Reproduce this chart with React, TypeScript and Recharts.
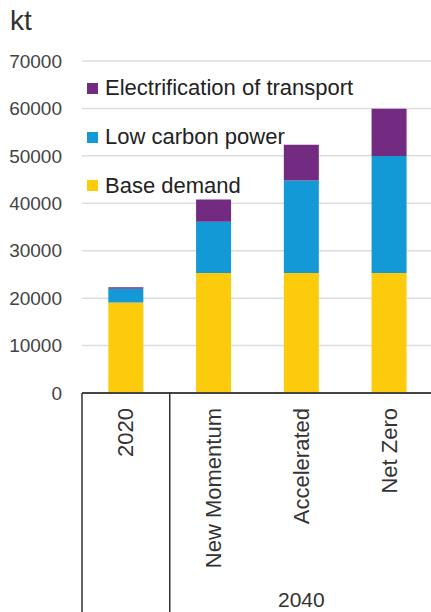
import React from "react";
import { BarChart, Bar, XAxis, YAxis, CartesianGrid, Legend } from "recharts";

const categories = ["2020", "New Momentum", "Accelerated", "Net Zero"];
const baseDemand = [19100, 25300, 25300, 25300];
const lowCarbonPower = [2900, 10800, 19500, 24650];
const electrification = [280, 4700, 7550, 10000];
const yTicks = [0, 10000, 20000, 30000, 40000, 50000, 60000, 70000];
const groupLabel = "2040";
const legendOrder = ["Electrification of transport", "Low carbon power", "Base demand"];

const data = categories.map((category, i) => ({
  category,
  base: baseDemand[i],
  lowCarbon: lowCarbonPower[i],
  transport: electrification[i],
}));

const W = 431;
const H = 612;
const Y_AXIS_W = 82;
const MARGIN = { top: 61, right: -2, bottom: 0, left: 0 };
const X_AXIS_H = 219;
const BAND = (W - Y_AXIS_W - MARGIN.left - MARGIN.right) / categories.length;
const FONT = "'Liberation Sans', Arial, sans-serif";

const CategoryTick = (props: any) => {
  const { x, y, payload, index } = props;
  return (
    <g>
      {index <= 1 && (
        <line x1={x - BAND / 2} x2={x - BAND / 2} y1={y} y2={H} stroke="#333" strokeWidth={1.5} />
      )}
      <text
        x={x}
        y={y + 15}
        transform={`rotate(-90, ${x}, ${y + 15})`}
        textAnchor="end"
        dominantBaseline="central"
        fontFamily={FONT}
        fontSize={22}
        fill="#333"
      >
        {payload.value}
      </text>
      {index === 2 && (
        <text x={x} y={H - 5} textAnchor="middle" fontFamily={FONT} fontSize={21} fill="#333">
          {groupLabel}
        </text>
      )}
    </g>
  );
};

const renderLegend = (props: any) => {
  const items = [...(props.payload || [])].sort(
    (a: any, b: any) => legendOrder.indexOf(a.value) - legendOrder.indexOf(b.value)
  );
  return (
    <div style={{ fontFamily: FONT, fontSize: 22, color: "#222" }}>
      {items.map((item: any) => (
        <div key={item.value} style={{ display: "flex", alignItems: "center", height: 48.7 }}>
          <span style={{ width: 11, height: 11, background: item.color, marginRight: 7, display: "inline-block" }} />
          <span>{item.value}</span>
        </div>
      ))}
    </div>
  );
};

export default function App() {
  return (
    <div style={{ position: "absolute", left: 0, top: 0, width: W, height: H, background: "#fff" }}>
      <div style={{ position: "absolute", left: 10, top: 5, fontFamily: FONT, fontSize: 28, color: "#333", lineHeight: "32px" }}>
        kt
      </div>
      <BarChart width={W} height={H} data={data} margin={MARGIN} barCategoryGap="30%">
        <CartesianGrid vertical={false} stroke="#dddddd" strokeWidth={1.5} />
        <XAxis
          dataKey="category"
          height={X_AXIS_H}
          interval={0}
          tickLine={false}
          tickSize={0}
          tickMargin={0}
          axisLine={{ stroke: "#444", strokeWidth: 2 }}
          tick={<CategoryTick />}
        />
        <YAxis
          width={Y_AXIS_W}
          domain={[0, 70000]}
          ticks={yTicks}
          axisLine={false}
          tickLine={false}
          tickSize={0}
          tickMargin={20}
          tick={{ fontFamily: FONT, fontSize: 19, fill: "#444" }}
        />
        <Legend
          layout="vertical"
          align="center"
          verticalAlign="middle"
          wrapperStyle={{ left: 87, top: 64, width: "auto" }}
          content={renderLegend}
        />
        <Bar dataKey="base" stackId="a" fill="#FCCB0C" name="Base demand" isAnimationActive={false} />
        <Bar dataKey="lowCarbon" stackId="a" fill="#1399D6" name="Low carbon power" isAnimationActive={false} />
        <Bar dataKey="transport" stackId="a" fill="#722B80" name="Electrification of transport" isAnimationActive={false} />
      </BarChart>
    </div>
  );
}
